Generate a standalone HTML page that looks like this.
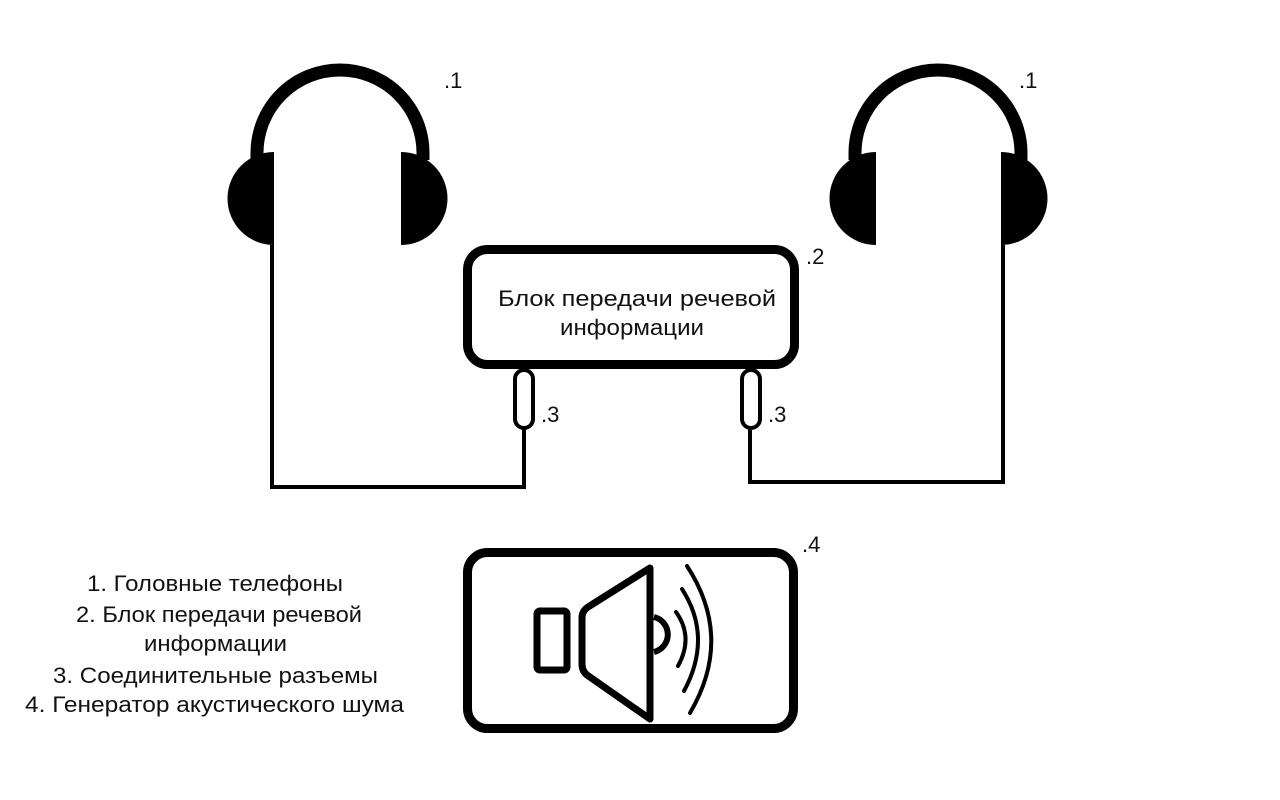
<!DOCTYPE html>
<html><head><meta charset="utf-8"><style>
html,body{margin:0;padding:0;background:#fff;width:1280px;height:800px;overflow:hidden}
svg{display:block}
text{font-family:"Liberation Sans","DejaVu Sans",sans-serif;fill:#111}
</style></head><body>
<svg width="1280" height="800" viewBox="0 0 1280 800" xmlns="http://www.w3.org/2000/svg">
<g>
<path d="M257,160 L257,153 A83,83 0 0 1 423,153 L423,160" fill="none" stroke="#000" stroke-width="13"/>
<path d="M274,152 L274,245 A46.5,46.5 0 0 1 274,152 Z" fill="#000"/>
<path d="M401,152 L401,245 A46.5,46.5 0 0 0 401,152 Z" fill="#000"/>
</g>
<g>
<path d="M855,160 L855,153 A83,83 0 0 1 1021,153 L1021,160" fill="none" stroke="#000" stroke-width="13"/>
<path d="M876,152 L876,245 A46.5,46.5 0 0 1 876,152 Z" fill="#000"/>
<path d="M1001,152 L1001,245 A46.5,46.5 0 0 0 1001,152 Z" fill="#000"/>
</g>
<text x="444" y="88" font-size="22">.1</text>
<text x="1019" y="88" font-size="22">.1</text>
<polyline points="272,245 272,487 524,487 524,426" fill="none" stroke="#000" stroke-width="4"/>
<polyline points="750,426 750,482 1003,482 1003,245" fill="none" stroke="#000" stroke-width="4"/>
<rect x="515" y="370" width="18" height="58" rx="9" fill="#fff" stroke="#000" stroke-width="4"/>
<rect x="742" y="370" width="18" height="58" rx="9" fill="#fff" stroke="#000" stroke-width="4"/>
<text x="541" y="422" font-size="22">.3</text>
<text x="768" y="422" font-size="22">.3</text>
<rect x="467.5" y="249.5" width="327" height="115" rx="20" fill="#fff" stroke="#000" stroke-width="9"/>
<text x="498" y="306" font-size="22" textLength="278" lengthAdjust="spacingAndGlyphs">Блок передачи речевой</text>
<text x="560" y="335" font-size="22" textLength="144" lengthAdjust="spacingAndGlyphs">информации</text>
<text x="806" y="264" font-size="22">.2</text>
<rect x="467.5" y="552.5" width="326" height="176" rx="20" fill="#fff" stroke="#000" stroke-width="9"/>
<text x="802" y="552" font-size="22">.4</text>
<rect x="537" y="611" width="30" height="59" rx="3" fill="none" stroke="#000" stroke-width="7"/>
<path d="M650,568 L650,719 L587,675 Q582,671 582,664 L582,618 Q582,611 588,607 Z" fill="none" stroke="#000" stroke-width="7" stroke-linejoin="round"/>
<path d="M654,617 A18,18 0 0 1 654,652" fill="none" stroke="#000" stroke-width="6"/>
<path d="M676,612 Q694,637 678,666" fill="none" stroke="#000" stroke-width="4" stroke-linecap="round"/>
<path d="M682,589 Q713,637 684,691" fill="none" stroke="#000" stroke-width="4" stroke-linecap="round"/>
<path d="M687,566 Q734,638 690,713" fill="none" stroke="#000" stroke-width="4" stroke-linecap="round"/>
<g font-size="22">
<text x="87" y="591" textLength="256" lengthAdjust="spacingAndGlyphs">1. Головные телефоны</text>
<text x="76" y="622" textLength="286" lengthAdjust="spacingAndGlyphs">2. Блок передачи речевой</text>
<text x="144" y="651" textLength="143" lengthAdjust="spacingAndGlyphs">информации</text>
<text x="53" y="683" textLength="325" lengthAdjust="spacingAndGlyphs">3. Соединительные разъемы</text>
<text x="25" y="712" textLength="379" lengthAdjust="spacingAndGlyphs">4. Генератор акустического шума</text>
</g>
</svg>
</body></html>
